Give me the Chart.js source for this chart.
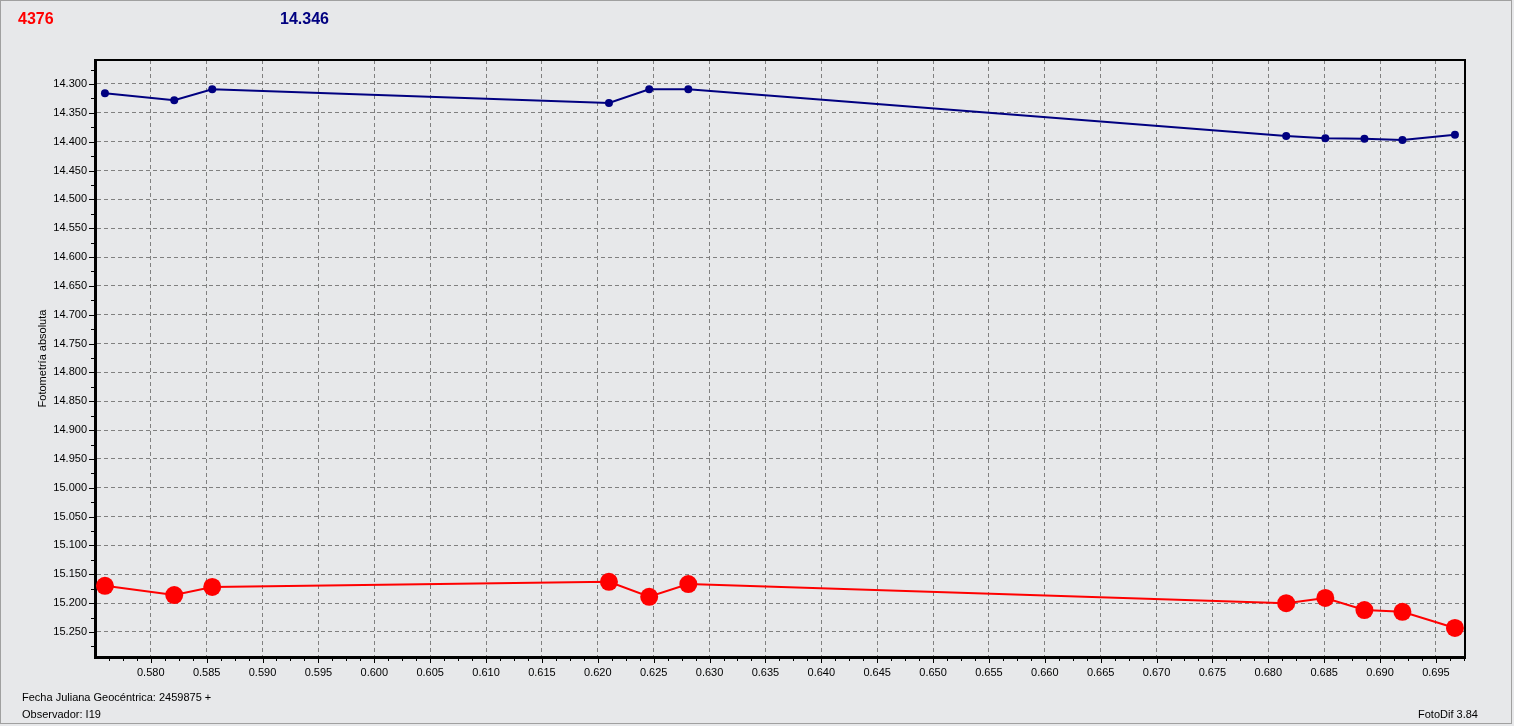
<!DOCTYPE html>
<html lang="es">
<head>
<meta charset="utf-8">
<title>FotoDif - Fotometría absoluta</title>
<script src="https://cdn.jsdelivr.net/npm/chart.js@4/dist/chart.umd.min.js"></script>
<style>
    html, body { margin: 0; padding: 0; background: #e7e8ea; }
    #marco {
        position: relative;
        width: 1514px;
        height: 726px;
        overflow: hidden;
        font-family: "Liberation Sans", Arial, sans-serif;
    }
    #borde {
        position: absolute;
        left: 0; top: 0;
        width: 1510px; height: 722px;
        border: 1px solid #a0a0a0;
        pointer-events: none;
    }
    #grafico { position: absolute; left: 0; top: 0; }
    .texto { position: absolute; white-space: nowrap; line-height: 1; }
    .titulo { font-size: 16px; font-weight: bold; top: 11px; }
    .pie { font-size: 11px; color: #000; }
</style>
</head>
<body>
<div id="marco">
    <canvas id="grafico" width="1514" height="726"></canvas>
    <div class="texto titulo" style="left:18px; color:#ff0000;" id="titulo-objeto"></div>
    <div class="texto titulo" style="left:280px; color:#000080;" id="titulo-media"></div>
    <div class="texto pie" style="left:22px; top:692px;">Fecha Juliana Geocéntrica: 2459875 +</div>
    <div class="texto pie" style="left:22px; top:709px;">Observador: I19</div>
    <div class="texto pie" style="left:1418px; top:709px;">FotoDif 3.84</div>
    <div id="borde"></div>
</div>
<script>
// Datos
const objeto = '4376';
const mediaComparacion = '14.346';

// Fracción de día juliano (2459875 + x)
const fechas = [0.5759, 0.5821, 0.5855, 0.6210, 0.6246, 0.6281, 0.6816, 0.6851, 0.6886, 0.6920, 0.6967];

// Estrella de comparación (azul)
const magComparacion = [14.316, 14.328, 14.309, 14.333, 14.309, 14.309, 14.390, 14.394, 14.395, 14.397, 14.388];

// Objeto (rojo)
const magObjeto = [15.170, 15.186, 15.172, 15.163, 15.189, 15.167, 15.200, 15.191, 15.212, 15.215, 15.243];

// Límites de los ejes
const xMin = 0.57501, xMax = 0.6976, xPaso = 0.005;
const yMin = 14.2584, yMax = 15.2934, yPaso = 0.05;

class GraficoFotometria {
    constructor() {
        this.chart = null;
    }

    init() {
        document.getElementById('titulo-objeto').textContent = objeto;
        document.getElementById('titulo-media').textContent = mediaComparacion;
        this.initChart();
    }

    // Marcas menores y marco superior/derecho
    pluginMarcas() {
        return {
            id: 'marcas',
            afterDraw(chart) {
                const { ctx, chartArea: a, scales: { x, y } } = chart;
                ctx.save();
                ctx.strokeStyle = '#000';
                ctx.lineWidth = 1;
                ctx.beginPath();
                // eje X: cada 0.00125
                for (let i = Math.ceil(xMin / 0.00125); i * 0.00125 <= xMax; i++) {
                    const px = Math.round(x.getPixelForValue(i * 0.00125)) + 0.5;
                    const largo = i % 4 === 0 ? 5 : 3;
                    ctx.moveTo(px, a.bottom + 1);
                    ctx.lineTo(px, a.bottom + 1 + largo);
                }
                // eje Y: cada 0.025
                for (let i = Math.ceil(yMin / 0.025); i * 0.025 <= yMax; i++) {
                    const py = Math.round(y.getPixelForValue(i * 0.025)) + 0.5;
                    const largo = i % 2 === 0 ? 5 : 3;
                    ctx.moveTo(a.left - 1, py);
                    ctx.lineTo(a.left - 1 - largo, py);
                }
                ctx.stroke();

                // marco superior y derecho
                ctx.lineWidth = 2;
                ctx.beginPath();
                ctx.moveTo(a.left, a.top);
                ctx.lineTo(a.right, a.top);
                ctx.lineTo(a.right, a.bottom);
                ctx.stroke();
                ctx.restore();
            }
        };
    }

    initChart() {
        const ctx = document.getElementById('grafico').getContext('2d');
        const fuente = { family: '"Liberation Sans", Arial, sans-serif', size: 11 };

        this.chart = new Chart(ctx, {
            type: 'line',
            data: {
                datasets: [{
                    label: 'Comparación',
                    data: fechas.map((f, i) => ({ x: f, y: magComparacion[i] })),
                    borderColor: '#000080',
                    backgroundColor: '#000080',
                    borderWidth: 2,
                    pointRadius: 4,
                    pointBorderWidth: 0,
                    tension: 0
                }, {
                    label: 'Objeto',
                    data: fechas.map((f, i) => ({ x: f, y: magObjeto[i] })),
                    borderColor: '#ff0000',
                    backgroundColor: '#ff0000',
                    borderWidth: 2,
                    pointRadius: 9,
                    pointBorderWidth: 0,
                    tension: 0
                }]
            },
            options: {
                responsive: false,
                animation: false,
                layout: { padding: { top: 60, right: 49, left: 0, bottom: 0 } },
                plugins: {
                    legend: { display: false },
                    tooltip: { enabled: false }
                },
                scales: {
                    x: {
                        type: 'linear',
                        min: xMin,
                        max: xMax,
                        afterFit: s => { s.height = 69; },
                        ticks: {
                            stepSize: xPaso,
                            includeBounds: false,
                            autoSkip: false,
                            maxRotation: 0,
                            padding: 9,
                            color: '#000',
                            font: fuente,
                            callback: v => v.toFixed(3)
                        },
                        grid: { color: '#808080', lineWidth: 1, drawTicks: false },
                        border: { display: true, color: '#000', width: 3, dash: [4, 3] }
                    },
                    y: {
                        type: 'linear',
                        reverse: true,
                        min: yMin,
                        max: yMax,
                        afterFit: s => { s.width = 95; },
                        ticks: {
                            stepSize: yPaso,
                            includeBounds: false,
                            autoSkip: false,
                            padding: 8,
                            color: '#000',
                            font: fuente,
                            callback: v => v.toFixed(3)
                        },
                        grid: { color: '#808080', lineWidth: 1, drawTicks: false },
                        border: { display: true, color: '#000', width: 3, dash: [4, 3] },
                        title: {
                            display: true,
                            text: 'Fotometría absoluta',
                            color: '#000',
                            font: fuente,
                            padding: { top: 36, bottom: 0 }
                        }
                    }
                }
            },
            plugins: [this.pluginMarcas()]
        });
    }
}

const grafico = new GraficoFotometria();
grafico.init();
</script>
</body>
</html>
